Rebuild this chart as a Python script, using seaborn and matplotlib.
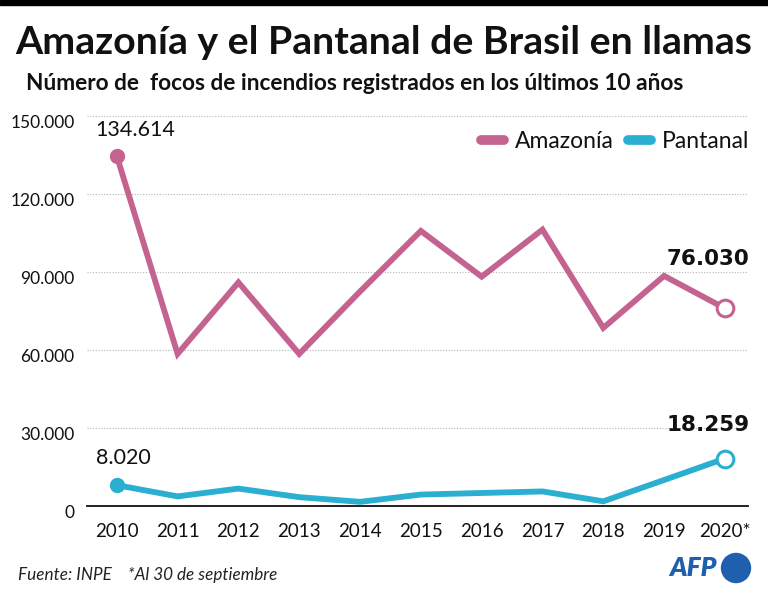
import numpy as np
import pandas as pd
import matplotlib.pyplot as plt
import matplotlib.transforms as mtrans
import seaborn as sns
from matplotlib.patches import Rectangle, Circle
from matplotlib.lines import Line2D

# data
years = ['2010', '2011', '2012', '2013', '2014', '2015', '2016', '2017', '2018', '2019', '2020*']
amazonia = [134614, 58500, 86000, 58500, 82500, 105800, 88200, 106300, 68500, 88500, 76030]
pantanal = [8020, 3700, 6700, 3400, 1600, 4400, 5000, 5600, 1800, 10000, 18259]
yticks = [0, 30000, 60000, 90000, 120000, 150000]
ytick_labels = ['0', '30.000', '60.000', '90.000', '120.000', '150.000']

col_ama = '#c4638f'
col_pan = '#2aafd0'

df = pd.DataFrame({'year': list(range(len(years))) * 2,
                   'focos': amazonia + pantanal,
                   'region': ['Amazonía'] * len(years) + ['Pantanal'] * len(years)})

sns.set_theme(style='white')
plt.rcParams['font.family'] = ['Lato', 'DejaVu Sans']

fig = plt.figure(figsize=(7.68, 5.96), dpi=100)
ax = fig.add_axes([87 / 768, 1 - 506 / 596, (748 - 87) / 768, (506 - 116) / 596])

sns.lineplot(data=df, x='year', y='focos', hue='region',
             palette={'Amazonía': col_ama, 'Pantanal': col_pan},
             linewidth=4.2, legend=False, ax=ax, clip_on=False)
for line in ax.lines:
    line.set_solid_joinstyle('miter')

last = len(years) - 1
ax.plot(0, amazonia[0], 'o', color=col_ama, ms=10, clip_on=False, zorder=5)
ax.plot(0, pantanal[0], 'o', color=col_pan, ms=10, clip_on=False, zorder=5)
ax.plot(last, amazonia[last], 'o', mfc='white', mec=col_ama, mew=2.2, ms=12, clip_on=False, zorder=5)
ax.plot(last, pantanal[last], 'o', mfc='white', mec=col_pan, mew=2.2, ms=12, clip_on=False, zorder=5)

fmt = lambda v: f'{v:,}'.replace(',', '.')
ax.text(-0.35, amazonia[0] + 10000, fmt(amazonia[0]), ha='left', va='center', fontsize=15.5, color='#111')
ax.text(-0.35, pantanal[0] + 10500, fmt(pantanal[0]), ha='left', va='center', fontsize=15.5, color='#111')
ax.text(last + 0.41, amazonia[last] + 19000, fmt(amazonia[last]), ha='right', va='center',
        fontsize=15.5, fontweight='bold', color='#111', family='DejaVu Sans')
ax.text(last + 0.41, pantanal[last] + 12800, fmt(pantanal[last]), ha='right', va='center',
        fontsize=15.5, fontweight='bold', color='#111', family='DejaVu Sans')

ax.set_xlim(-0.49, last + 0.38)
ax.set_ylim(0, 150000)
ax.set_yticks(yticks)
ax.set_yticklabels(ytick_labels)
ax.set_xticks(range(len(years)))
ax.set_xticklabels(years)
ax.tick_params(axis='y', labelsize=12.5, colors='#111', length=0, pad=9)
ax.tick_params(axis='x', labelsize=13.5, colors='#111', length=0, pad=12)
shift = mtrans.ScaledTranslation(0, -6 / 100, fig.dpi_scale_trans)
for lab in ax.get_yticklabels():
    lab.set_transform(lab.get_transform() + shift)
ax.set_xlabel('')
ax.set_ylabel('')
ax.yaxis.grid(True, color='#b5b5b5', linestyle=(0, (1, 1.5)), linewidth=0.8)
ax.set_axisbelow(True)
for s in ['top', 'right', 'left']:
    ax.spines[s].set_visible(False)
ax.spines['bottom'].set_color('#111')
ax.spines['bottom'].set_linewidth(1.3)
ax.spines['bottom'].set_zorder(1)

handles = [Line2D([0], [0], color=col_ama, lw=7, solid_capstyle='round'),
           Line2D([0], [0], color=col_pan, lw=7, solid_capstyle='round')]
ax.legend(handles, ['Amazonía', 'Pantanal'], loc='upper right', bbox_to_anchor=(1.023, 0.997),
          ncol=2, frameon=False, fontsize=16.5, handlelength=1.0, handletextpad=0.48,
          columnspacing=0.62, borderaxespad=0.2, labelcolor='#111')

# header / footer
fig.patches.append(Rectangle((0, 1 - 5 / 596), 1, 5 / 596, transform=fig.transFigure,
                             color='black', zorder=10))
fig.text(15 / 768, 1 - 43 / 596, 'Amazonía y el Pantanal de Brasil en llamas',
         fontsize=28.3, fontweight='bold', color='#111', va='center', ha='left')
fig.text(26 / 768, 1 - 84 / 596, 'Número de  focos de incendios registrados en los últimos 10 años',
         fontsize=16.3, fontweight='bold', color='#111', va='center', ha='left')
fig.text(18 / 768, 1 - 575 / 596, 'Fuente: INPE    *Al 30 de septiembre',
         fontsize=12.3, fontstyle='italic', color='#222', va='center', ha='left')
fig.text(717 / 768, 1 - 568 / 596, 'AFP', fontsize=19, fontweight='heavy', fontstyle='italic',
         color='#1f5fae', va='center', ha='right')
fig.patches.append(Circle((736 / 100, (596 - 568) / 100), 0.145, transform=fig.dpi_scale_trans,
                          color='#1f5fae'))

fig.savefig('out.png', dpi=100, facecolor='white')
